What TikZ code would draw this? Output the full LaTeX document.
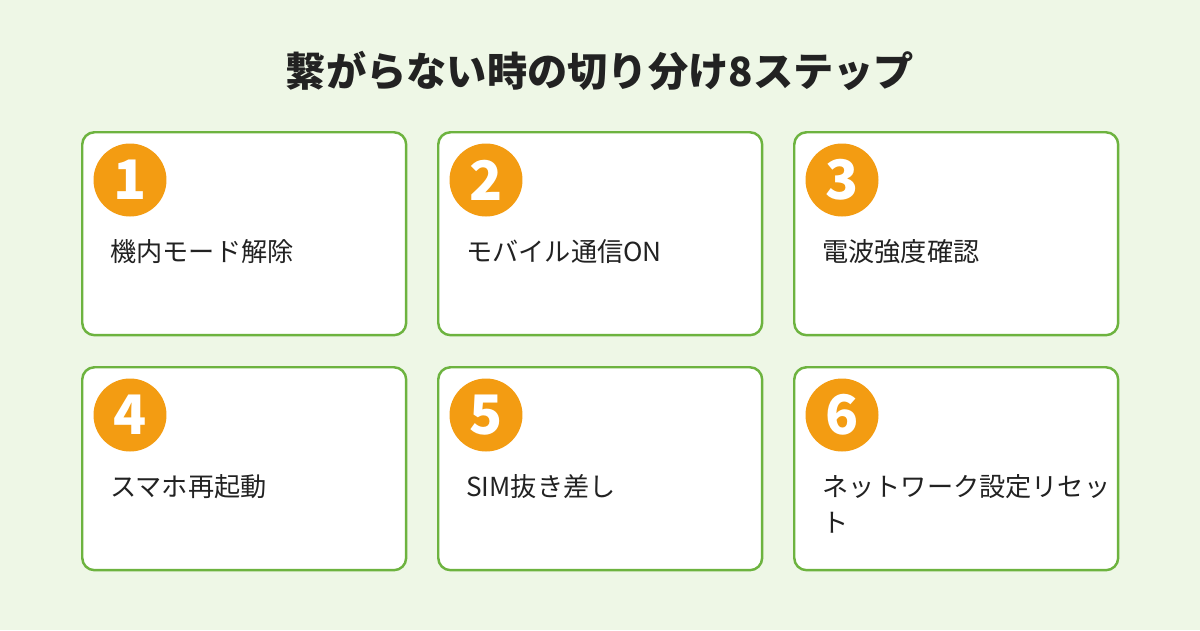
\documentclass[tikz,border=0pt]{standalone}
\usepackage{fontspec}
\setmainfont{Noto Sans CJK JP}
\usetikzlibrary{positioning}
\definecolor{bgcol}{HTML}{EEF7E6}
\definecolor{boxline}{HTML}{6DB33F}
\definecolor{badge}{HTML}{F39C12}
\definecolor{ink}{HTML}{222222}
\tikzset{
  card/.style={draw=boxline, line width=1.4pt, fill=white, rounded corners=7pt,
    minimum width=6.48cm, minimum height=4.06cm, anchor=north west},
  numdot/.style={circle, fill=badge, minimum size=1.46cm, inner sep=0pt,
    text=white, font=\fontsize{31}{31}\selectfont\bfseries},
  steptext/.style={anchor=north west, text width=6.2cm, align=left, inner sep=0pt,
    text=ink, font=\fontsize{14.9}{20.5}\selectfont}
}
\begin{document}
\begin{tikzpicture}[x=0.02cm, y=-0.02cm]
    % background
    \fill[bgcol] (0,0) rectangle (1200,630);
    \useasboundingbox (0,0) rectangle (1200,630);
    % title
    \node[text=ink, font=\fontsize{22.9}{26}\selectfont\bfseries] (title) at (600,71)
      {繋がらない時の切り分け8ステップ};
    % cards
    \foreach \n/\x/\y/\txt in {1/81/131/機内モード解除, 2/437/131/モバイル通信ON,
        3/793/131/電波強度確認, 4/81/366/スマホ再起動, 5/437/366/SIM抜き差し,
        6/793/366/{ネットワーク設定リセッ\\ト}} {
      \node[card] (card\n) at (\x,\y) {};
      \node[numdot] (num\n) at (\x+49,\y+49) {\n};
      \node[steptext] (text\n) at (\x+29,\y+108) {\txt};
    }
\end{tikzpicture}
\end{document}
